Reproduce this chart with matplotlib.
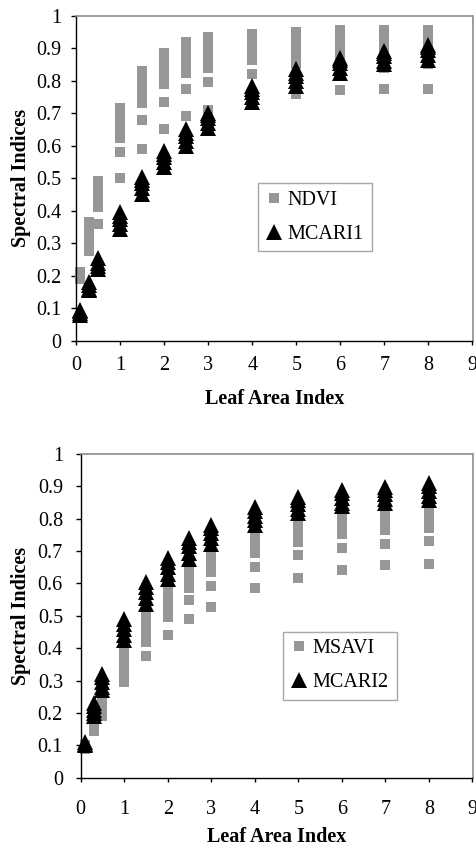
import matplotlib
matplotlib.use("Agg")
import matplotlib.pyplot as plt

plt.rcParams['font.family'] = ['Liberation Serif', 'DejaVu Serif']

# ---------------- data ----------------
lai = [0.1, 0.3, 0.5, 1, 1.5, 2, 2.5, 3, 4, 5, 6, 7, 8]

ndvi = [
    [0.19, 0.20, 0.21],
    [0.275, 0.29, 0.31, 0.33, 0.35, 0.365],
    [0.36, 0.41, 0.43, 0.45, 0.47, 0.49],
    [0.50, 0.58, 0.625, 0.645, 0.665, 0.685, 0.70, 0.715],
    [0.59, 0.68, 0.73, 0.75, 0.77, 0.79, 0.81, 0.83],
    [0.65, 0.735, 0.79, 0.81, 0.83, 0.85, 0.87, 0.885],
    [0.69, 0.775, 0.825, 0.845, 0.865, 0.885, 0.905, 0.92],
    [0.71, 0.795, 0.84, 0.86, 0.88, 0.90, 0.92, 0.935],
    [0.76, 0.82, 0.865, 0.885, 0.905, 0.925, 0.945],
    [0.76, 0.80, 0.85, 0.875, 0.895, 0.915, 0.935, 0.95],
    [0.77, 0.83, 0.85, 0.87, 0.89, 0.91, 0.935, 0.955],
    [0.775, 0.84, 0.86, 0.88, 0.90, 0.92, 0.94, 0.955],
    [0.775, 0.85, 0.87, 0.89, 0.91, 0.93, 0.955],
]

mcari1 = [
    [0.08, 0.085, 0.09, 0.095],
    [0.155, 0.16, 0.17, 0.18],
    [0.22, 0.23, 0.24, 0.255],
    [0.345, 0.36, 0.375, 0.385, 0.395],
    [0.45, 0.47, 0.485, 0.495, 0.505],
    [0.535, 0.55, 0.565, 0.575, 0.585],
    [0.60, 0.615, 0.63, 0.64, 0.65],
    [0.655, 0.67, 0.685, 0.695, 0.70],
    [0.735, 0.75, 0.765, 0.775, 0.785],
    [0.785, 0.80, 0.815, 0.825, 0.835],
    [0.825, 0.84, 0.855, 0.865, 0.87],
    [0.85, 0.86, 0.875, 0.885, 0.89],
    [0.865, 0.88, 0.895, 0.905, 0.91],
]

msavi = [
    [0.09, 0.095, 0.10],
    [0.145, 0.16, 0.175, 0.19, 0.205],
    [0.19, 0.205, 0.22, 0.235, 0.25, 0.265],
    [0.295, 0.31, 0.325, 0.34, 0.355, 0.37, 0.385, 0.40],
    [0.375, 0.42, 0.435, 0.45, 0.465, 0.48, 0.495, 0.51, 0.53, 0.55],
    [0.44, 0.497, 0.515, 0.535, 0.555, 0.575, 0.595, 0.615],
    [0.49, 0.549, 0.586, 0.605, 0.625, 0.645, 0.665],
    [0.528, 0.592, 0.636, 0.655, 0.675, 0.695, 0.715],
    [0.587, 0.652, 0.693, 0.71, 0.73, 0.75, 0.77],
    [0.618, 0.688, 0.729, 0.745, 0.765, 0.785, 0.80],
    [0.642, 0.711, 0.752, 0.77, 0.79, 0.81, 0.83],
    [0.656, 0.721, 0.765, 0.78, 0.80, 0.82, 0.84],
    [0.661, 0.73, 0.772, 0.79, 0.81, 0.83, 0.85],
]

mcari2 = [
    [0.10, 0.105, 0.11],
    [0.19, 0.20, 0.21, 0.22, 0.23],
    [0.27, 0.28, 0.295, 0.31, 0.32],
    [0.425, 0.44, 0.46, 0.475, 0.49],
    [0.537, 0.555, 0.575, 0.59, 0.605],
    [0.614, 0.63, 0.65, 0.665, 0.68],
    [0.677, 0.695, 0.715, 0.728, 0.74],
    [0.722, 0.74, 0.755, 0.77, 0.78],
    [0.78, 0.795, 0.81, 0.825, 0.835],
    [0.818, 0.83, 0.845, 0.858, 0.866],
    [0.839, 0.85, 0.865, 0.88, 0.889],
    [0.849, 0.86, 0.875, 0.89, 0.898],
    [0.859, 0.87, 0.885, 0.90, 0.909],
]

xticks = [0, 1, 2, 3, 4, 5, 6, 7, 8, 9]
yticks = [0, 0.1, 0.2, 0.3, 0.4, 0.5, 0.6, 0.7, 0.8, 0.9, 1]
ytick_labels = ['0', '0.1', '0.2', '0.3', '0.4', '0.5', '0.6', '0.7', '0.8', '0.9', '1']
xlabel = 'Leaf Area Index'
ylabel = 'Spectral Indices'


def flat(groups):
    xs, ys = [], []
    for l, vals in zip(lai, groups):
        for v in vals:
            xs.append(l)
            ys.append(v)
    return xs, ys


W, H = 476, 846
fig = plt.figure(figsize=(W / 100, H / 100), dpi=100)

FS = 14.5
GRAY = '#979797'


def make_panel(rect, sq, tri, sq_label, tri_label, leg_xy, xpad, ypad):
    ax = fig.add_axes(rect)
    xs, ys = flat(sq)
    ax.plot(xs, ys, ls='none', marker='s', ms=7.2, mfc=GRAY, mec=GRAY,
            mew=0, label=sq_label, zorder=2, clip_on=False)
    xt, yt = flat(tri)
    ax.plot(xt, yt, ls='none', marker='^', ms=11, mfc='black', mec='black',
            mew=0, label=tri_label, zorder=3, clip_on=False)
    ax.set_xlim(0, 9)
    ax.set_ylim(0, 1)
    ax.set_xticks(xticks)
    ax.set_xticklabels([str(t) for t in xticks])
    ax.set_yticks(yticks)
    ax.set_yticklabels(ytick_labels)
    ax.tick_params(axis='x', direction='out', length=3.1, width=1.0,
                   labelsize=FS, pad=xpad, color='black')
    ax.tick_params(axis='y', direction='out', length=3.6, width=1.0,
                   labelsize=FS, pad=ypad, color='black')
    for s in ('top', 'right'):
        ax.spines[s].set_color('#8c8c8c')
        ax.spines[s].set_linewidth(1.2)
    for s in ('left', 'bottom'):
        ax.spines[s].set_color('black')
        ax.spines[s].set_linewidth(1.0)
    ax.set_xlabel(xlabel, fontsize=FS, fontweight='bold', va='baseline')
    ax.set_ylabel(ylabel, fontsize=FS, fontweight='bold', va='center')
    leg = ax.legend(loc='upper left', bbox_to_anchor=leg_xy,
                    bbox_transform=fig.transFigure, borderaxespad=0,
                    frameon=True, fancybox=False, edgecolor='#a8a8a8',
                    framealpha=1, fontsize=FS, handlelength=0.8,
                    handletextpad=0.3, borderpad=0.38, labelspacing=0.72,
                    numpoints=1)
    leg.get_frame().set_linewidth(1.0)
    return ax


# top panel
ax1 = make_panel([76 / W, 1 - 340.7 / H, (472.5 - 76) / W, 325 / H],
                 ndvi, mcari1, 'NDVI', 'MCARI1',
                 (258 / W, 1 - 183.3 / H), xpad=8.0, ypad=6.7)
ax1.xaxis.set_label_coords(0.5, -63.3 / 325)
ax1.yaxis.set_label_coords((21 - 76) / (472.5 - 76), 0.5)

# bottom panel
ax2 = make_panel([80.6 / W, 1 - 777.7 / H, (472.5 - 80.6) / W, 323.7 / H],
                 msavi, mcari2, 'MSAVI', 'MCARI2',
                 (283 / W, 1 - 631.7 / H), xpad=12.6, ypad=9.1)
ax2.xaxis.set_label_coords(0.5, -64 / 323.7)
ax2.yaxis.set_label_coords((21 - 80.6) / (472.5 - 80.6), 0.5)

fig.savefig('out.png', dpi=100)
